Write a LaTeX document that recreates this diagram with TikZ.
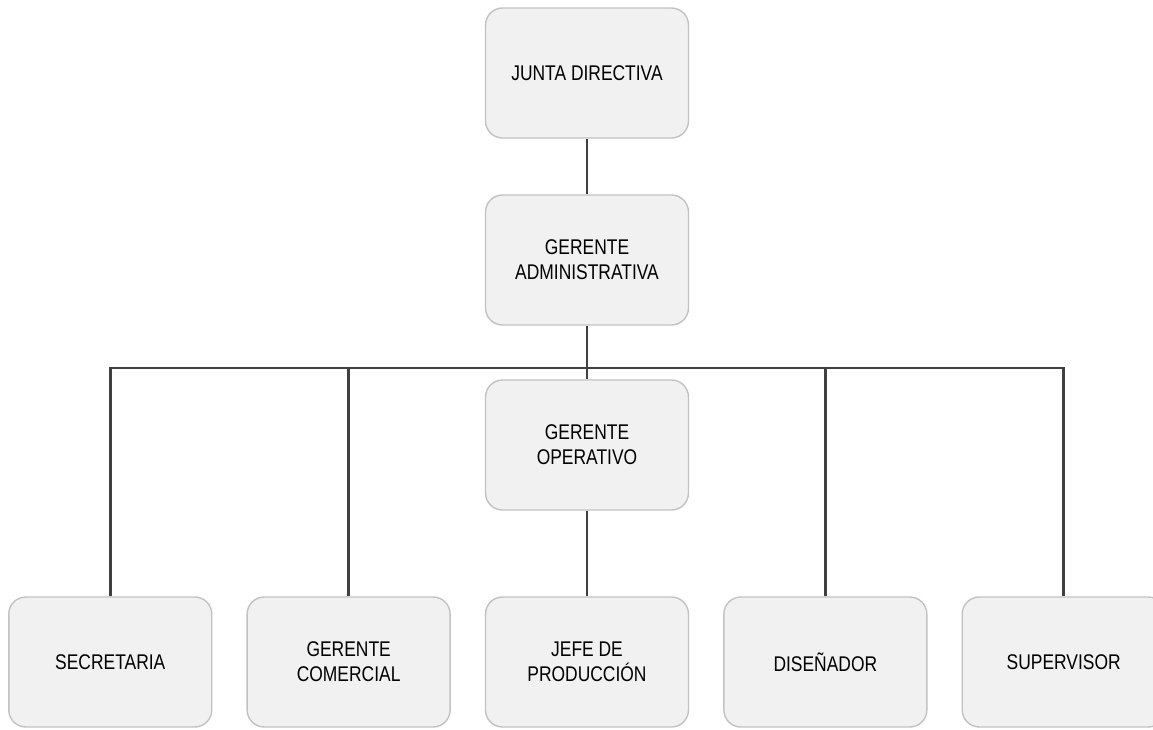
\documentclass[tikz,border=0pt]{standalone}
\usepackage{xcolor}
\usepackage{fontspec}
\setmainfont[FakeStretch=0.82]{Liberation Sans}
\usepackage{tikz}
\usetikzlibrary{positioning}

\definecolor{boxfill}{HTML}{F1F1F1}
\definecolor{boxline}{HTML}{C2C2C2}
\definecolor{linkline}{HTML}{404040}

\begin{document}
\begin{tikzpicture}[x=0.02cm, y=-0.02cm,
    cargo/.style={rectangle, rounded corners=0.34cm, draw=boxline, line width=0.8pt, fill=boxfill,
                  minimum width=4.06cm, minimum height=2.6cm, align=center,
                  font=\fontsize{12.1}{14.2}\selectfont},
    link/.style={draw=linkline, line width=1.55pt}]
    \useasboundingbox (0,0) rectangle (1153,730);
    \node (junta) [cargo] at (587,73) {JUNTA DIRECTIVA};
    \node (adm) [cargo] at (587,260) {GERENTE\\ADMINISTRATIVA};
    \node (oper) [cargo] at (587,445) {GERENTE\\OPERATIVO};
    \node (jefe) [cargo] at (587,662) {JEFE DE\\PRODUCCIÓN};
    \node (comer) [cargo, left=0.68cm of jefe] {GERENTE\\COMERCIAL};
    \node (secr) [cargo, left=0.68cm of comer] {SECRETARIA};
    \node (disen) [cargo, right=0.68cm of jefe] {DISEÑADOR};
    \node (super) [cargo, right=0.68cm of disen] {SUPERVISOR};
    \coordinate (bar) at (587,368);

    \draw [link] (junta) -- (adm);
    \draw [link] (adm) -- (oper);
    \draw [link] (oper) -- (jefe);
    \draw [link] (secr) |- (bar) -| (super);
    \draw [link] (comer) -- (comer |- bar);
    \draw [link] (disen) -- (disen |- bar);
\end{tikzpicture}
\end{document}
